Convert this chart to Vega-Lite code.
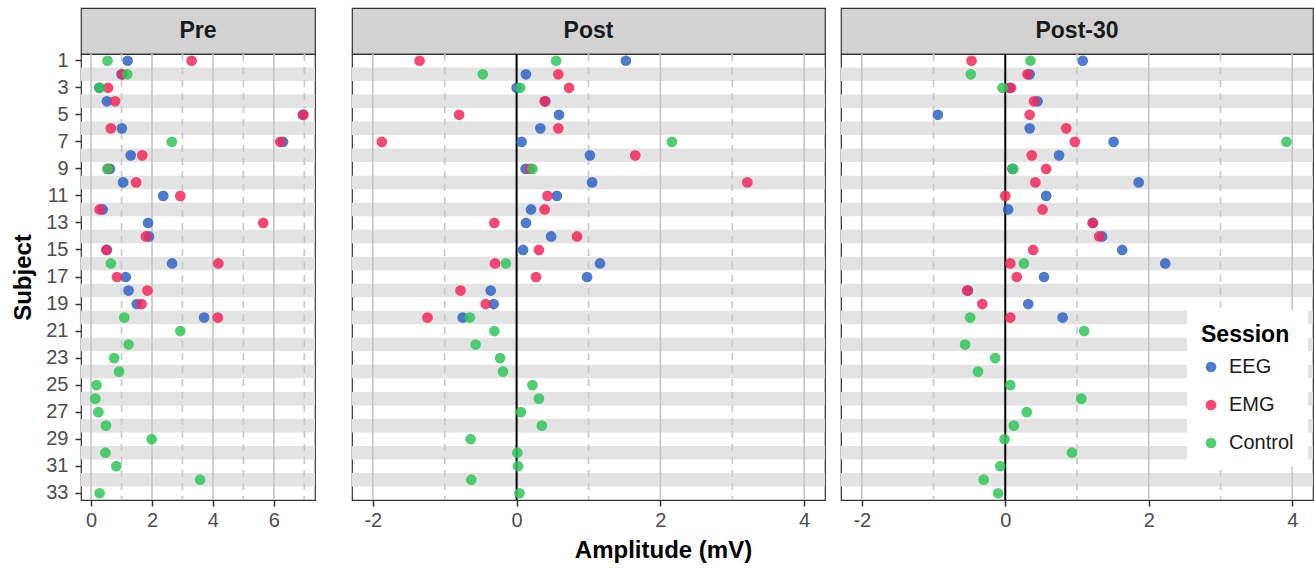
{
  "$schema": "https://vega.github.io/schema/vega-lite/v6.json",
  "padding": {"left": 11, "top": 7, "right": 1, "bottom": 2},
  "background": "white",
  "config": {
    "font": "Liberation Sans",
    "view": {"stroke": "#333333", "strokeWidth": 1.2},
    "axis": {"labelFont": "Liberation Sans", "labelFontSize": 20, "labelColor": "#4d4d4d", "tickColor": "#333333", "tickWidth": 1.5, "tickSize": 6, "labelPadding": 4, "domain": false, "grid": false, "titleFont": "Liberation Sans", "titleFontSize": 24, "titleFontWeight": "bold", "titleColor": "#000000"}
  },
  "datasets": {
    "bands": [{"Subject":2},{"Subject":4},{"Subject":6},{"Subject":8},{"Subject":10},{"Subject":12},{"Subject":14},{"Subject":16},{"Subject":18},{"Subject":20},{"Subject":22},{"Subject":24},{"Subject":26},{"Subject":28},{"Subject":30},{"Subject":32}],
    "amp": [
      {"Phase":"Pre","Subject":1,"Session":"EEG","Amplitude":1.2},
      {"Phase":"Pre","Subject":2,"Session":"EEG","Amplitude":1.0},
      {"Phase":"Pre","Subject":3,"Session":"EEG","Amplitude":0.27},
      {"Phase":"Pre","Subject":4,"Session":"EEG","Amplitude":0.52},
      {"Phase":"Pre","Subject":5,"Session":"EEG","Amplitude":6.95},
      {"Phase":"Pre","Subject":6,"Session":"EEG","Amplitude":1.01},
      {"Phase":"Pre","Subject":7,"Session":"EEG","Amplitude":6.3},
      {"Phase":"Pre","Subject":8,"Session":"EEG","Amplitude":1.3},
      {"Phase":"Pre","Subject":9,"Session":"EEG","Amplitude":0.62},
      {"Phase":"Pre","Subject":10,"Session":"EEG","Amplitude":1.05},
      {"Phase":"Pre","Subject":11,"Session":"EEG","Amplitude":2.37},
      {"Phase":"Pre","Subject":12,"Session":"EEG","Amplitude":0.38},
      {"Phase":"Pre","Subject":13,"Session":"EEG","Amplitude":1.87},
      {"Phase":"Pre","Subject":14,"Session":"EEG","Amplitude":1.9},
      {"Phase":"Pre","Subject":15,"Session":"EEG","Amplitude":0.52},
      {"Phase":"Pre","Subject":16,"Session":"EEG","Amplitude":2.66},
      {"Phase":"Pre","Subject":17,"Session":"EEG","Amplitude":1.14},
      {"Phase":"Pre","Subject":18,"Session":"EEG","Amplitude":1.23},
      {"Phase":"Pre","Subject":19,"Session":"EEG","Amplitude":1.5},
      {"Phase":"Pre","Subject":20,"Session":"EEG","Amplitude":3.71},
      {"Phase":"Pre","Subject":1,"Session":"EMG","Amplitude":3.3},
      {"Phase":"Pre","Subject":2,"Session":"EMG","Amplitude":1.03},
      {"Phase":"Pre","Subject":3,"Session":"EMG","Amplitude":0.56},
      {"Phase":"Pre","Subject":4,"Session":"EMG","Amplitude":0.79},
      {"Phase":"Pre","Subject":5,"Session":"EMG","Amplitude":6.97},
      {"Phase":"Pre","Subject":6,"Session":"EMG","Amplitude":0.65},
      {"Phase":"Pre","Subject":7,"Session":"EMG","Amplitude":6.21},
      {"Phase":"Pre","Subject":8,"Session":"EMG","Amplitude":1.68},
      {"Phase":"Pre","Subject":9,"Session":"EMG","Amplitude":0.55},
      {"Phase":"Pre","Subject":10,"Session":"EMG","Amplitude":1.48},
      {"Phase":"Pre","Subject":11,"Session":"EMG","Amplitude":2.93},
      {"Phase":"Pre","Subject":12,"Session":"EMG","Amplitude":0.28},
      {"Phase":"Pre","Subject":13,"Session":"EMG","Amplitude":5.65},
      {"Phase":"Pre","Subject":14,"Session":"EMG","Amplitude":1.8},
      {"Phase":"Pre","Subject":15,"Session":"EMG","Amplitude":0.5},
      {"Phase":"Pre","Subject":16,"Session":"EMG","Amplitude":4.18},
      {"Phase":"Pre","Subject":17,"Session":"EMG","Amplitude":0.85},
      {"Phase":"Pre","Subject":18,"Session":"EMG","Amplitude":1.85},
      {"Phase":"Pre","Subject":19,"Session":"EMG","Amplitude":1.66},
      {"Phase":"Pre","Subject":20,"Session":"EMG","Amplitude":4.16},
      {"Phase":"Pre","Subject":1,"Session":"Control","Amplitude":0.54},
      {"Phase":"Pre","Subject":2,"Session":"Control","Amplitude":1.19},
      {"Phase":"Pre","Subject":3,"Session":"Control","Amplitude":0.29},
      {"Phase":"Pre","Subject":7,"Session":"Control","Amplitude":2.65},
      {"Phase":"Pre","Subject":9,"Session":"Control","Amplitude":0.54},
      {"Phase":"Pre","Subject":16,"Session":"Control","Amplitude":0.65},
      {"Phase":"Pre","Subject":20,"Session":"Control","Amplitude":1.09},
      {"Phase":"Pre","Subject":21,"Session":"Control","Amplitude":2.93},
      {"Phase":"Pre","Subject":22,"Session":"Control","Amplitude":1.23},
      {"Phase":"Pre","Subject":23,"Session":"Control","Amplitude":0.76},
      {"Phase":"Pre","Subject":24,"Session":"Control","Amplitude":0.92},
      {"Phase":"Pre","Subject":25,"Session":"Control","Amplitude":0.18},
      {"Phase":"Pre","Subject":26,"Session":"Control","Amplitude":0.14},
      {"Phase":"Pre","Subject":27,"Session":"Control","Amplitude":0.24},
      {"Phase":"Pre","Subject":28,"Session":"Control","Amplitude":0.49},
      {"Phase":"Pre","Subject":29,"Session":"Control","Amplitude":1.99},
      {"Phase":"Pre","Subject":30,"Session":"Control","Amplitude":0.47},
      {"Phase":"Pre","Subject":31,"Session":"Control","Amplitude":0.83},
      {"Phase":"Pre","Subject":32,"Session":"Control","Amplitude":3.58},
      {"Phase":"Pre","Subject":33,"Session":"Control","Amplitude":0.28},
      {"Phase":"Post","Subject":1,"Session":"EEG","Amplitude":1.52},
      {"Phase":"Post","Subject":2,"Session":"EEG","Amplitude":0.13},
      {"Phase":"Post","Subject":3,"Session":"EEG","Amplitude":0.0},
      {"Phase":"Post","Subject":4,"Session":"EEG","Amplitude":0.4},
      {"Phase":"Post","Subject":5,"Session":"EEG","Amplitude":0.59},
      {"Phase":"Post","Subject":6,"Session":"EEG","Amplitude":0.33},
      {"Phase":"Post","Subject":7,"Session":"EEG","Amplitude":0.07},
      {"Phase":"Post","Subject":8,"Session":"EEG","Amplitude":1.02},
      {"Phase":"Post","Subject":9,"Session":"EEG","Amplitude":0.125},
      {"Phase":"Post","Subject":10,"Session":"EEG","Amplitude":1.05},
      {"Phase":"Post","Subject":11,"Session":"EEG","Amplitude":0.56},
      {"Phase":"Post","Subject":12,"Session":"EEG","Amplitude":0.2},
      {"Phase":"Post","Subject":13,"Session":"EEG","Amplitude":0.13},
      {"Phase":"Post","Subject":14,"Session":"EEG","Amplitude":0.48},
      {"Phase":"Post","Subject":15,"Session":"EEG","Amplitude":0.09},
      {"Phase":"Post","Subject":16,"Session":"EEG","Amplitude":1.16},
      {"Phase":"Post","Subject":17,"Session":"EEG","Amplitude":0.98},
      {"Phase":"Post","Subject":18,"Session":"EEG","Amplitude":-0.36},
      {"Phase":"Post","Subject":19,"Session":"EEG","Amplitude":-0.32},
      {"Phase":"Post","Subject":20,"Session":"EEG","Amplitude":-0.75},
      {"Phase":"Post","Subject":1,"Session":"EMG","Amplitude":-1.35},
      {"Phase":"Post","Subject":2,"Session":"EMG","Amplitude":0.58},
      {"Phase":"Post","Subject":3,"Session":"EMG","Amplitude":0.73},
      {"Phase":"Post","Subject":4,"Session":"EMG","Amplitude":0.39},
      {"Phase":"Post","Subject":5,"Session":"EMG","Amplitude":-0.8},
      {"Phase":"Post","Subject":6,"Session":"EMG","Amplitude":0.58},
      {"Phase":"Post","Subject":7,"Session":"EMG","Amplitude":-1.875},
      {"Phase":"Post","Subject":8,"Session":"EMG","Amplitude":1.65},
      {"Phase":"Post","Subject":9,"Session":"EMG","Amplitude":0.185},
      {"Phase":"Post","Subject":10,"Session":"EMG","Amplitude":3.21},
      {"Phase":"Post","Subject":11,"Session":"EMG","Amplitude":0.43},
      {"Phase":"Post","Subject":12,"Session":"EMG","Amplitude":0.39},
      {"Phase":"Post","Subject":13,"Session":"EMG","Amplitude":-0.31},
      {"Phase":"Post","Subject":14,"Session":"EMG","Amplitude":0.84},
      {"Phase":"Post","Subject":15,"Session":"EMG","Amplitude":0.31},
      {"Phase":"Post","Subject":16,"Session":"EMG","Amplitude":-0.3},
      {"Phase":"Post","Subject":17,"Session":"EMG","Amplitude":0.27},
      {"Phase":"Post","Subject":18,"Session":"EMG","Amplitude":-0.78},
      {"Phase":"Post","Subject":19,"Session":"EMG","Amplitude":-0.43},
      {"Phase":"Post","Subject":20,"Session":"EMG","Amplitude":-1.24},
      {"Phase":"Post","Subject":1,"Session":"Control","Amplitude":0.55},
      {"Phase":"Post","Subject":2,"Session":"Control","Amplitude":-0.47},
      {"Phase":"Post","Subject":3,"Session":"Control","Amplitude":0.05},
      {"Phase":"Post","Subject":7,"Session":"Control","Amplitude":2.16},
      {"Phase":"Post","Subject":9,"Session":"Control","Amplitude":0.22},
      {"Phase":"Post","Subject":16,"Session":"Control","Amplitude":-0.15},
      {"Phase":"Post","Subject":20,"Session":"Control","Amplitude":-0.65},
      {"Phase":"Post","Subject":21,"Session":"Control","Amplitude":-0.31},
      {"Phase":"Post","Subject":22,"Session":"Control","Amplitude":-0.57},
      {"Phase":"Post","Subject":23,"Session":"Control","Amplitude":-0.23},
      {"Phase":"Post","Subject":24,"Session":"Control","Amplitude":-0.19},
      {"Phase":"Post","Subject":25,"Session":"Control","Amplitude":0.22},
      {"Phase":"Post","Subject":26,"Session":"Control","Amplitude":0.31},
      {"Phase":"Post","Subject":27,"Session":"Control","Amplitude":0.06},
      {"Phase":"Post","Subject":28,"Session":"Control","Amplitude":0.35},
      {"Phase":"Post","Subject":29,"Session":"Control","Amplitude":-0.64},
      {"Phase":"Post","Subject":30,"Session":"Control","Amplitude":0.01},
      {"Phase":"Post","Subject":31,"Session":"Control","Amplitude":0.02},
      {"Phase":"Post","Subject":32,"Session":"Control","Amplitude":-0.63},
      {"Phase":"Post","Subject":33,"Session":"Control","Amplitude":0.04},
      {"Phase":"Post-30","Subject":1,"Session":"EEG","Amplitude":1.08},
      {"Phase":"Post-30","Subject":2,"Session":"EEG","Amplitude":0.34},
      {"Phase":"Post-30","Subject":3,"Session":"EEG","Amplitude":0.06},
      {"Phase":"Post-30","Subject":4,"Session":"EEG","Amplitude":0.45},
      {"Phase":"Post-30","Subject":5,"Session":"EEG","Amplitude":-0.94},
      {"Phase":"Post-30","Subject":6,"Session":"EEG","Amplitude":0.34},
      {"Phase":"Post-30","Subject":7,"Session":"EEG","Amplitude":1.51},
      {"Phase":"Post-30","Subject":8,"Session":"EEG","Amplitude":0.75},
      {"Phase":"Post-30","Subject":9,"Session":"EEG","Amplitude":0.1},
      {"Phase":"Post-30","Subject":10,"Session":"EEG","Amplitude":1.86},
      {"Phase":"Post-30","Subject":11,"Session":"EEG","Amplitude":0.57},
      {"Phase":"Post-30","Subject":12,"Session":"EEG","Amplitude":0.04},
      {"Phase":"Post-30","Subject":13,"Session":"EEG","Amplitude":1.22},
      {"Phase":"Post-30","Subject":14,"Session":"EEG","Amplitude":1.35},
      {"Phase":"Post-30","Subject":15,"Session":"EEG","Amplitude":1.63},
      {"Phase":"Post-30","Subject":16,"Session":"EEG","Amplitude":2.23},
      {"Phase":"Post-30","Subject":17,"Session":"EEG","Amplitude":0.54},
      {"Phase":"Post-30","Subject":18,"Session":"EEG","Amplitude":-0.52},
      {"Phase":"Post-30","Subject":19,"Session":"EEG","Amplitude":0.32},
      {"Phase":"Post-30","Subject":20,"Session":"EEG","Amplitude":0.8},
      {"Phase":"Post-30","Subject":1,"Session":"EMG","Amplitude":-0.47},
      {"Phase":"Post-30","Subject":2,"Session":"EMG","Amplitude":0.31},
      {"Phase":"Post-30","Subject":3,"Session":"EMG","Amplitude":0.08},
      {"Phase":"Post-30","Subject":4,"Session":"EMG","Amplitude":0.4},
      {"Phase":"Post-30","Subject":5,"Session":"EMG","Amplitude":0.34},
      {"Phase":"Post-30","Subject":6,"Session":"EMG","Amplitude":0.85},
      {"Phase":"Post-30","Subject":7,"Session":"EMG","Amplitude":0.97},
      {"Phase":"Post-30","Subject":8,"Session":"EMG","Amplitude":0.37},
      {"Phase":"Post-30","Subject":9,"Session":"EMG","Amplitude":0.57},
      {"Phase":"Post-30","Subject":10,"Session":"EMG","Amplitude":0.42},
      {"Phase":"Post-30","Subject":11,"Session":"EMG","Amplitude":0.0},
      {"Phase":"Post-30","Subject":12,"Session":"EMG","Amplitude":0.52},
      {"Phase":"Post-30","Subject":13,"Session":"EMG","Amplitude":1.22},
      {"Phase":"Post-30","Subject":14,"Session":"EMG","Amplitude":1.31},
      {"Phase":"Post-30","Subject":15,"Session":"EMG","Amplitude":0.39},
      {"Phase":"Post-30","Subject":16,"Session":"EMG","Amplitude":0.07},
      {"Phase":"Post-30","Subject":17,"Session":"EMG","Amplitude":0.16},
      {"Phase":"Post-30","Subject":18,"Session":"EMG","Amplitude":-0.53},
      {"Phase":"Post-30","Subject":19,"Session":"EMG","Amplitude":-0.32},
      {"Phase":"Post-30","Subject":20,"Session":"EMG","Amplitude":0.07},
      {"Phase":"Post-30","Subject":1,"Session":"Control","Amplitude":0.35},
      {"Phase":"Post-30","Subject":2,"Session":"Control","Amplitude":-0.48},
      {"Phase":"Post-30","Subject":3,"Session":"Control","Amplitude":-0.04},
      {"Phase":"Post-30","Subject":7,"Session":"Control","Amplitude":3.92},
      {"Phase":"Post-30","Subject":9,"Session":"Control","Amplitude":0.11},
      {"Phase":"Post-30","Subject":16,"Session":"Control","Amplitude":0.26},
      {"Phase":"Post-30","Subject":20,"Session":"Control","Amplitude":-0.49},
      {"Phase":"Post-30","Subject":21,"Session":"Control","Amplitude":1.1},
      {"Phase":"Post-30","Subject":22,"Session":"Control","Amplitude":-0.56},
      {"Phase":"Post-30","Subject":23,"Session":"Control","Amplitude":-0.14},
      {"Phase":"Post-30","Subject":24,"Session":"Control","Amplitude":-0.38},
      {"Phase":"Post-30","Subject":25,"Session":"Control","Amplitude":0.07},
      {"Phase":"Post-30","Subject":26,"Session":"Control","Amplitude":1.06},
      {"Phase":"Post-30","Subject":27,"Session":"Control","Amplitude":0.3},
      {"Phase":"Post-30","Subject":28,"Session":"Control","Amplitude":0.12},
      {"Phase":"Post-30","Subject":29,"Session":"Control","Amplitude":-0.01},
      {"Phase":"Post-30","Subject":30,"Session":"Control","Amplitude":0.93},
      {"Phase":"Post-30","Subject":31,"Session":"Control","Amplitude":-0.07},
      {"Phase":"Post-30","Subject":32,"Session":"Control","Amplitude":-0.3},
      {"Phase":"Post-30","Subject":33,"Session":"Control","Amplitude":-0.1}
    ]
  },
  "spacing": 35,
  "resolve": {"scale": {"color": "independent"}, "legend": {"color": "independent"}},
  "hconcat": [
    {
      "bounds": "flush",
      "spacing": 0,
      "resolve": {"scale": {"color": "independent"}, "legend": {"color": "independent"}},
      "vconcat": [
        {
          "width": 234, "height": 46,
          "data": {"values": [{"label": "Pre"}]},
          "view": {"fill": "#d3d3d3", "stroke": "#333333", "strokeWidth": 1.2},
          "mark": {"type": "text", "fontSize": 23, "fontWeight": "bold", "color": "#1a1a1a", "baseline": "middle", "font": "Liberation Sans"},
          "encoding": {"text": {"field": "label"}}
        },
        {
          "width": 234, "height": 446,
          "layer": [
            {
              "data": {"name": "bands"},
              "mark": {"type": "rect", "color": "#e3e3e3"},
              "encoding": {"y": {"field": "Subject", "type": "ordinal", "scale": {"type": "band", "domain": [1,2,3,4,5,6,7,8,9,10,11,12,13,14,15,16,17,18,19,20,21,22,23,24,25,26,27,28,29,30,31,32,33], "paddingInner": 0, "paddingOuter": 0}, "axis": {"values": [1,3,5,7,9,11,13,15,17,19,21,23,25,27,29,31,33], "title": "Subject", "titlePadding": 10, "labelPadding": 7}}}
            },
            {
              "data": {"values": [{"Amplitude": 0}, {"Amplitude": 2}, {"Amplitude": 4}, {"Amplitude": 6}]},
              "mark": {"type": "rule", "color": "#c4c4c4", "strokeWidth": 1.6},
              "encoding": {"x": {"field": "Amplitude", "type": "quantitative", "scale": {"domain": [-0.33, 7.35], "nice": false, "zero": false}, "axis": {"values": [0, 2, 4, 6], "title": null}}}
            },
            {
              "data": {"values": [{"Amplitude": 1}, {"Amplitude": 3}, {"Amplitude": 5}, {"Amplitude": 7}]},
              "mark": {"type": "rule", "color": "#c8c8c8", "strokeWidth": 1.6, "strokeDash": [7, 6]},
              "encoding": {"x": {"field": "Amplitude", "type": "quantitative", "scale": {"domain": [-0.33, 7.35], "nice": false, "zero": false}, "axis": {"values": [0, 2, 4, 6], "title": null}}}
            },
            {
              "data": {"name": "amp"},
              "transform": [{"filter": "datum.Phase === 'Pre'"}],
              "mark": {"type": "circle", "size": 115, "opacity": 0.85},
              "encoding": {
                "x": {"field": "Amplitude", "type": "quantitative", "scale": {"domain": [-0.33, 7.35], "nice": false, "zero": false}, "axis": {"values": [0, 2, 4, 6], "title": null}},
                "y": {"field": "Subject", "type": "ordinal", "scale": {"type": "band", "domain": [1,2,3,4,5,6,7,8,9,10,11,12,13,14,15,16,17,18,19,20,21,22,23,24,25,26,27,28,29,30,31,32,33], "paddingInner": 0, "paddingOuter": 0}, "axis": {"values": [1,3,5,7,9,11,13,15,17,19,21,23,25,27,29,31,33], "title": "Subject", "titlePadding": 10, "labelPadding": 7}},
                "color": {"field": "Session", "type": "nominal", "scale": {"domain": ["EEG", "EMG", "Control"], "range": ["#3064C4", "#F2285D", "#32C65A"]}, "legend": null}
              }
            }
          ]
        }
      ]
    },
    {
      "spacing": 14,
      "resolve": {"scale": {"color": "independent"}, "legend": {"color": "independent"}},
      "hconcat": [
        {
          "bounds": "flush",
          "spacing": 0,
          "resolve": {"scale": {"color": "independent"}, "legend": {"color": "independent"}},
          "vconcat": [
            {
              "width": 473, "height": 46,
              "data": {"values": [{"label": "Post"}]},
              "view": {"fill": "#d3d3d3", "stroke": "#333333", "strokeWidth": 1.2},
              "mark": {"type": "text", "fontSize": 23, "fontWeight": "bold", "color": "#1a1a1a", "baseline": "middle", "font": "Liberation Sans"},
              "encoding": {"text": {"field": "label"}}
            },
            {
              "width": 473, "height": 446,
              "layer": [
                {
                  "data": {"name": "bands"},
                  "mark": {"type": "rect", "color": "#e3e3e3"},
                  "encoding": {"y": {"field": "Subject", "type": "ordinal", "scale": {"type": "band", "domain": [1,2,3,4,5,6,7,8,9,10,11,12,13,14,15,16,17,18,19,20,21,22,23,24,25,26,27,28,29,30,31,32,33], "paddingInner": 0, "paddingOuter": 0}, "axis": null}}
                },
                {
                  "data": {"values": [{"Amplitude": -2}, {"Amplitude": 2}, {"Amplitude": 4}]},
                  "mark": {"type": "rule", "color": "#c4c4c4", "strokeWidth": 1.6},
                  "encoding": {"x": {"field": "Amplitude", "type": "quantitative", "scale": {"domain": [-2.29, 4.29], "nice": false, "zero": false}, "axis": {"values": [-2, 0, 2, 4], "labelExpr": "datum.value < 0 ? '-' + abs(datum.value) : '' + datum.value", "title": "Amplitude (mV)", "titleX": 311, "titlePadding": 8}}}
                },
                {
                  "data": {"values": [{"Amplitude": -1}, {"Amplitude": 1}, {"Amplitude": 3}]},
                  "mark": {"type": "rule", "color": "#c8c8c8", "strokeWidth": 1.6, "strokeDash": [7, 6]},
                  "encoding": {"x": {"field": "Amplitude", "type": "quantitative", "scale": {"domain": [-2.29, 4.29], "nice": false, "zero": false}, "axis": {"values": [-2, 0, 2, 4], "labelExpr": "datum.value < 0 ? '-' + abs(datum.value) : '' + datum.value", "title": "Amplitude (mV)", "titleX": 311, "titlePadding": 8}}}
                },
                {
                  "data": {"values": [{"Amplitude": 0}]},
                  "mark": {"type": "rule", "color": "#000000", "strokeWidth": 2},
                  "encoding": {"x": {"field": "Amplitude", "type": "quantitative", "scale": {"domain": [-2.29, 4.29], "nice": false, "zero": false}, "axis": {"values": [-2, 0, 2, 4], "labelExpr": "datum.value < 0 ? '-' + abs(datum.value) : '' + datum.value", "title": "Amplitude (mV)", "titleX": 311, "titlePadding": 8}}}
                },
                {
                  "data": {"name": "amp"},
                  "transform": [{"filter": "datum.Phase === 'Post'"}],
                  "mark": {"type": "circle", "size": 115, "opacity": 0.85},
                  "encoding": {
                    "x": {"field": "Amplitude", "type": "quantitative", "scale": {"domain": [-2.29, 4.29], "nice": false, "zero": false}, "axis": {"values": [-2, 0, 2, 4], "labelExpr": "datum.value < 0 ? '-' + abs(datum.value) : '' + datum.value", "title": "Amplitude (mV)", "titleX": 311, "titlePadding": 8}},
                    "y": {"field": "Subject", "type": "ordinal", "scale": {"type": "band", "domain": [1,2,3,4,5,6,7,8,9,10,11,12,13,14,15,16,17,18,19,20,21,22,23,24,25,26,27,28,29,30,31,32,33], "paddingInner": 0, "paddingOuter": 0}, "axis": null},
                    "color": {"field": "Session", "type": "nominal", "scale": {"domain": ["EEG", "EMG", "Control"], "range": ["#3064C4", "#F2285D", "#32C65A"]}, "legend": null}
                  }
                }
              ]
            }
          ]
        },
        {
          "bounds": "flush",
          "spacing": 0,
          "resolve": {"scale": {"color": "independent"}, "legend": {"color": "independent"}},
          "vconcat": [
            {
              "width": 472, "height": 46,
              "data": {"values": [{"label": "Post-30"}]},
              "view": {"fill": "#d3d3d3", "stroke": "#333333", "strokeWidth": 1.2},
              "mark": {"type": "text", "fontSize": 23, "fontWeight": "bold", "color": "#1a1a1a", "baseline": "middle", "font": "Liberation Sans"},
              "encoding": {"text": {"field": "label"}}
            },
            {
              "width": 472, "height": 446,
              "layer": [
                {
                  "data": {"name": "bands"},
                  "mark": {"type": "rect", "color": "#e3e3e3"},
                  "encoding": {"y": {"field": "Subject", "type": "ordinal", "scale": {"type": "band", "domain": [1,2,3,4,5,6,7,8,9,10,11,12,13,14,15,16,17,18,19,20,21,22,23,24,25,26,27,28,29,30,31,32,33], "paddingInner": 0, "paddingOuter": 0}, "axis": null}}
                },
                {
                  "data": {"values": [{"Amplitude": -2}, {"Amplitude": 2}, {"Amplitude": 4}]},
                  "mark": {"type": "rule", "color": "#c4c4c4", "strokeWidth": 1.6},
                  "encoding": {"x": {"field": "Amplitude", "type": "quantitative", "scale": {"domain": [-2.29, 4.29], "nice": false, "zero": false}, "axis": {"values": [-2, 0, 2, 4], "labelExpr": "datum.value < 0 ? '-' + abs(datum.value) : '' + datum.value", "title": null}}}
                },
                {
                  "data": {"values": [{"Amplitude": -1}, {"Amplitude": 1}, {"Amplitude": 3}]},
                  "mark": {"type": "rule", "color": "#c8c8c8", "strokeWidth": 1.6, "strokeDash": [7, 6]},
                  "encoding": {"x": {"field": "Amplitude", "type": "quantitative", "scale": {"domain": [-2.29, 4.29], "nice": false, "zero": false}, "axis": {"values": [-2, 0, 2, 4], "labelExpr": "datum.value < 0 ? '-' + abs(datum.value) : '' + datum.value", "title": null}}}
                },
                {
                  "data": {"values": [{"Amplitude": 0}]},
                  "mark": {"type": "rule", "color": "#000000", "strokeWidth": 2},
                  "encoding": {"x": {"field": "Amplitude", "type": "quantitative", "scale": {"domain": [-2.29, 4.29], "nice": false, "zero": false}, "axis": {"values": [-2, 0, 2, 4], "labelExpr": "datum.value < 0 ? '-' + abs(datum.value) : '' + datum.value", "title": null}}}
                },
                {
                  "data": {"name": "amp"},
                  "transform": [{"filter": "datum.Phase === 'Post-30'"}],
                  "mark": {"type": "circle", "size": 115, "opacity": 0.85},
                  "encoding": {
                    "x": {"field": "Amplitude", "type": "quantitative", "scale": {"domain": [-2.29, 4.29], "nice": false, "zero": false}, "axis": {"values": [-2, 0, 2, 4], "labelExpr": "datum.value < 0 ? '-' + abs(datum.value) : '' + datum.value", "title": null}},
                    "y": {"field": "Subject", "type": "ordinal", "scale": {"type": "band", "domain": [1,2,3,4,5,6,7,8,9,10,11,12,13,14,15,16,17,18,19,20,21,22,23,24,25,26,27,28,29,30,31,32,33], "paddingInner": 0, "paddingOuter": 0}, "axis": null},
                    "color": {"field": "Session", "type": "nominal", "scale": {"domain": ["EEG", "EMG", "Control"], "range": ["#3064C4", "#F2285D", "#32C65A"]},
                      "legend": {"orient": "none", "legendX": 346, "legendY": 256, "title": "Session", "titleFont": "Liberation Sans", "titleFontSize": 23, "titleFontWeight": "bold", "titleColor": "#000000", "titlePadding": 10, "labelFont": "Liberation Sans", "labelFontSize": 20, "labelColor": "#1a1a1a", "labelOffset": 8, "fillColor": "white", "padding": 14, "rowPadding": 18, "symbolSize": 115, "symbolOpacity": 0.85, "symbolType": "circle", "symbolStrokeWidth": 0}}
                  }
                }
              ]
            }
          ]
        }
      ]
    }
  ]
}
